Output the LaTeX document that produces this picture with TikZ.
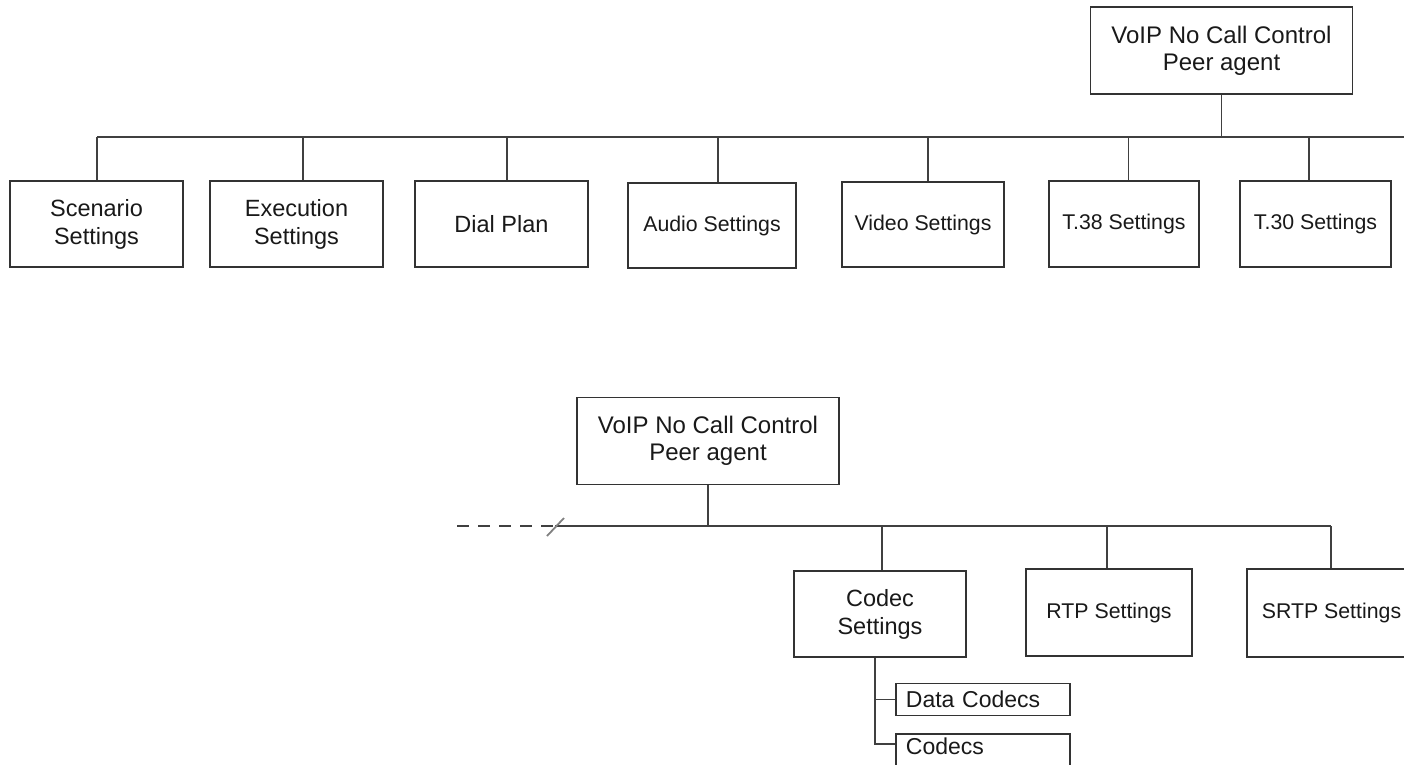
\documentclass[tikz,border=0pt]{standalone}
\usepackage{fontspec}
\setmainfont{Liberation Sans}
\usetikzlibrary{calc}

\begin{document}
\begin{tikzpicture}[x=1pt,y=-1pt,
  box/.style={draw=black!80,line width=1.8pt,align=center,inner sep=0pt,text=black!90},
  rootbox/.style={box,minimum width=262pt,minimum height=87pt,font=\fontsize{24}{27}\selectfont},
  twobox/.style={box,font=\fontsize{23.5}{28}\selectfont},
  onebox/.style={box,font=\fontsize{21.3}{25}\selectfont},
  leafbox/.style={box,text width=154pt,inner xsep=10pt,align=left,minimum height=32pt,font=\fontsize{23}{26}\selectfont},
  link/.style={draw=black!75,line width=1.8pt}]
  \clip (0,0) rectangle (1404,764);

  % upper tree
  \node[rootbox] (top) at (1221.5,50.5) {VoIP No Call Control\\Peer agent};
  \node[twobox,minimum width=173pt,minimum height=86pt] (scen) at (96.5,224) {Scenario\\Settings};
  \node[twobox,minimum width=173pt,minimum height=86pt] (exec) at (296.5,224) {Execution\\Settings};
  \node[twobox,minimum width=173pt,minimum height=86pt] (dial) at (501.5,224) {Dial Plan};
  \node[onebox,minimum width=168pt,minimum height=85pt] (audio) at (712,225.5) {Audio Settings};
  \node[onebox,minimum width=162pt,minimum height=85pt] (video) at (923,224.5) {Video Settings};
  \node[onebox,minimum width=150pt,minimum height=86pt] (t38) at (1124,224) {T.38 Settings};
  \node[onebox,minimum width=151pt,minimum height=86pt] (t30) at (1315.5,224) {T.30 Settings};

  % upper bus
  \coordinate (busA) at (97,137);
  \coordinate (busB) at (1404,137);
  \draw[link] (busA) -- (busB);
  \draw[link] (top.south) -- (top.south |- busA);
  \foreach \n/\dx in {scen/0.5,exec/6.5,dial/5.5,audio/6,video/5,t38/4.5,t30/-6.5}
    \draw[link] ([xshift=\dx pt]\n.north) -- ([xshift=\dx pt]\n.north |- busA);

  % lower tree
  \node[rootbox] (peer) at (708,441) {VoIP No Call Control\\Peer agent};
  \node[twobox,minimum width=172pt,minimum height=86pt] (codec) at (880,614) {Codec\\Settings};
  \node[onebox,minimum width=166pt,minimum height=87pt] (rtp) at (1109,612.5) {RTP Settings};
  \node[onebox,minimum width=169pt,minimum height=88pt] (srtp) at (1331.5,613) {SRTP Settings};
  \node[leafbox,anchor=west] (dcod) at (895,699.5) {Data Codecs};
  \node[leafbox,anchor=north west,minimum height=44pt,text depth=20pt] (cod) at (895,733) {Codecs};

  % lower bus, cut off on the left
  \coordinate (dashA) at (457,526);
  \coordinate (cut) at (555,526);
  \coordinate (busC) at (1331,526);
  \draw[link,dash pattern=on 12pt off 9pt] (dashA) -- (cut);
  \draw[link] (cut) -- (busC);
  \draw[link,draw=black!50] ($(cut)+(-8,10)$) -- ($(cut)+(9,-8)$);
  \draw[link] (peer.south) -- (peer.south |- cut);
  \foreach \n/\dx in {codec/2,rtp/-2,srtp/-0.5}
    \draw[link] ([xshift=\dx pt]\n.north) -- ([xshift=\dx pt]\n.north |- cut);

  % codec children
  \coordinate (stemC) at ([xshift=-5pt]codec.south);
  \draw[link] (stemC) |- (dcod.west);
  \draw[link] (stemC) |- ([yshift=-11pt]cod.north west);
\end{tikzpicture}
\end{document}
